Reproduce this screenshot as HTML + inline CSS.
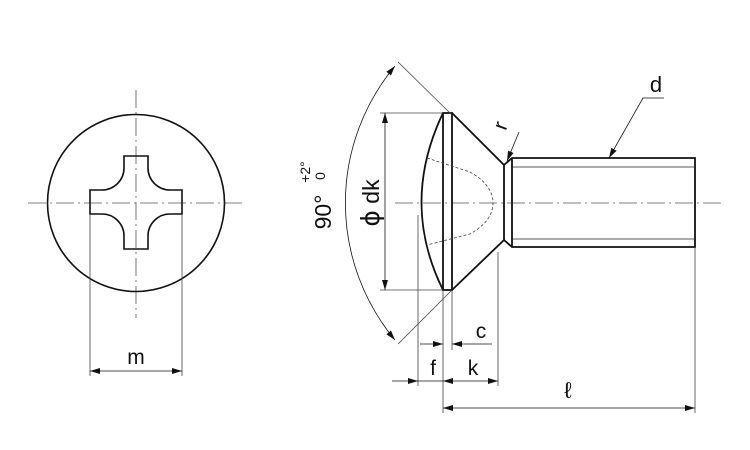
<!DOCTYPE html>
<html><head><meta charset="utf-8"><style>
html,body{margin:0;padding:0;background:#fff;}
svg{display:block;}
text{font-family:"Liberation Sans",sans-serif;fill:#111;}
</style></head><body>
<svg width="750" height="450" viewBox="0 0 750 450" xmlns="http://www.w3.org/2000/svg">
<defs>
<marker id="a" viewBox="0 0 10 6" refX="10" refY="3" markerWidth="10" markerHeight="6" orient="auto-start-reverse" markerUnits="userSpaceOnUse"><path d="M0,0 L10,3 L0,6 z" fill="#111"/></marker>
</defs>
<g fill="none" stroke="#555" stroke-width="0.8" stroke-dasharray="18,4,2,4">
<line x1="136" y1="90" x2="136" y2="318"/>
<line x1="28" y1="203" x2="246" y2="203"/>
<line x1="395" y1="203" x2="722" y2="203"/>
</g>
<!-- left view -->
<circle cx="136" cy="203" r="88.5" fill="none" stroke="#111" stroke-width="1.6"/>
<path d="M124,156 H148 V168 A22,22 0 0 0 170,190 H182 V214 H170 A22,22 0 0 0 148,236 V249 H124 V236 A22,22 0 0 0 102,214 H90 V190 H102 A22,22 0 0 0 124,168 Z" fill="none" stroke="#111" stroke-width="1.6"/>
<g stroke="#444" stroke-width="0.8">
<line x1="90" y1="214" x2="90" y2="376"/>
<line x1="182" y1="214" x2="182" y2="376"/>
</g>
<line x1="90" y1="371" x2="182" y2="371" stroke="#111" stroke-width="0.8" marker-start="url(#a)" marker-end="url(#a)"/>
<text x="136" y="364" font-size="21" text-anchor="middle">m</text>
<!-- side view -->
<g fill="none" stroke="#111" stroke-width="1.8">
<path d="M443,113 Q400,203 443,290"/>
<rect x="443" y="113" width="9" height="177"/>
<path d="M452,113 L504,165 L504,240 L452,290"/>
<path d="M504,165 L512,158 H695 V247 H512 L504,240"/>
<line x1="512" y1="158" x2="512" y2="247"/>
</g>
<g stroke="#222" stroke-width="0.8" fill="none">
<line x1="512" y1="167" x2="695" y2="167"/>
<line x1="512" y1="239" x2="695" y2="239"/>
</g>
<path d="M427,158 L470,172 Q493,185 493,203 Q493,221 470,234 L427,245" fill="none" stroke="#444" stroke-width="0.8" stroke-dasharray="3,2"/>
<!-- dk -->
<g stroke="#444" stroke-width="0.8">
<line x1="380" y1="113" x2="443" y2="113"/>
<line x1="380" y1="290" x2="443" y2="290"/>
<line x1="398" y1="62" x2="451" y2="114"/>
<line x1="398" y1="344" x2="451" y2="291"/>
<line x1="418" y1="215" x2="418" y2="386"/>
<line x1="443" y1="290" x2="443" y2="413"/>
<line x1="452" y1="290" x2="452" y2="350"/>
<line x1="498" y1="252" x2="498" y2="386"/>
<line x1="695" y1="247" x2="695" y2="413"/>
</g>
<line x1="385" y1="113" x2="385" y2="290" stroke="#111" stroke-width="0.8" marker-start="url(#a)" marker-end="url(#a)"/>
<path d="M395,66 A214,214 0 0 0 395,340" fill="none" stroke="#111" stroke-width="0.8" marker-start="url(#a)" marker-end="url(#a)"/>
<text transform="translate(379,203) rotate(-90)" font-size="23" text-anchor="middle"><tspan font-family="DejaVu Sans" font-size="25">ϕ</tspan> dk</text>
<text transform="translate(331,212) rotate(-90)" font-size="23" text-anchor="middle">90°</text>
<text transform="translate(310,172) rotate(-90)" font-size="14" text-anchor="middle">+2°</text>
<text transform="translate(325,176) rotate(-90)" font-size="14" text-anchor="middle">0</text>
<!-- c -->
<line x1="420" y1="344" x2="443" y2="344" stroke="#111" stroke-width="0.8" marker-end="url(#a)"/>
<line x1="452" y1="344" x2="492" y2="344" stroke="#111" stroke-width="0.8" marker-start="url(#a)"/>
<text x="481" y="338" font-size="21" text-anchor="middle">c</text>
<!-- f k -->
<line x1="392" y1="381" x2="418" y2="381" stroke="#111" stroke-width="0.8" marker-end="url(#a)"/>
<line x1="418" y1="381" x2="443" y2="381" stroke="#111" stroke-width="0.8"/>
<line x1="443" y1="381" x2="498" y2="381" stroke="#111" stroke-width="0.8" marker-start="url(#a)" marker-end="url(#a)"/>
<text x="433" y="375" font-size="21" text-anchor="middle">f</text>
<text x="473" y="375" font-size="21" text-anchor="middle">k</text>
<!-- l -->
<line x1="443" y1="408" x2="695" y2="408" stroke="#111" stroke-width="0.8" marker-start="url(#a)" marker-end="url(#a)"/>
<text x="568" y="398" font-size="23" text-anchor="middle" font-family="DejaVu Sans">ℓ</text>
<!-- d -->
<path d="M664,98 H643 L609,158" fill="none" stroke="#111" stroke-width="0.8" marker-end="url(#a)"/>
<text x="656" y="92" font-size="22" text-anchor="middle">d</text>
<!-- r -->
<line x1="519" y1="132" x2="507" y2="161" stroke="#111" stroke-width="0.8" marker-end="url(#a)"/>
<text transform="translate(507,128) rotate(-70)" font-size="21" text-anchor="middle">r</text>
</svg>
</body></html>
